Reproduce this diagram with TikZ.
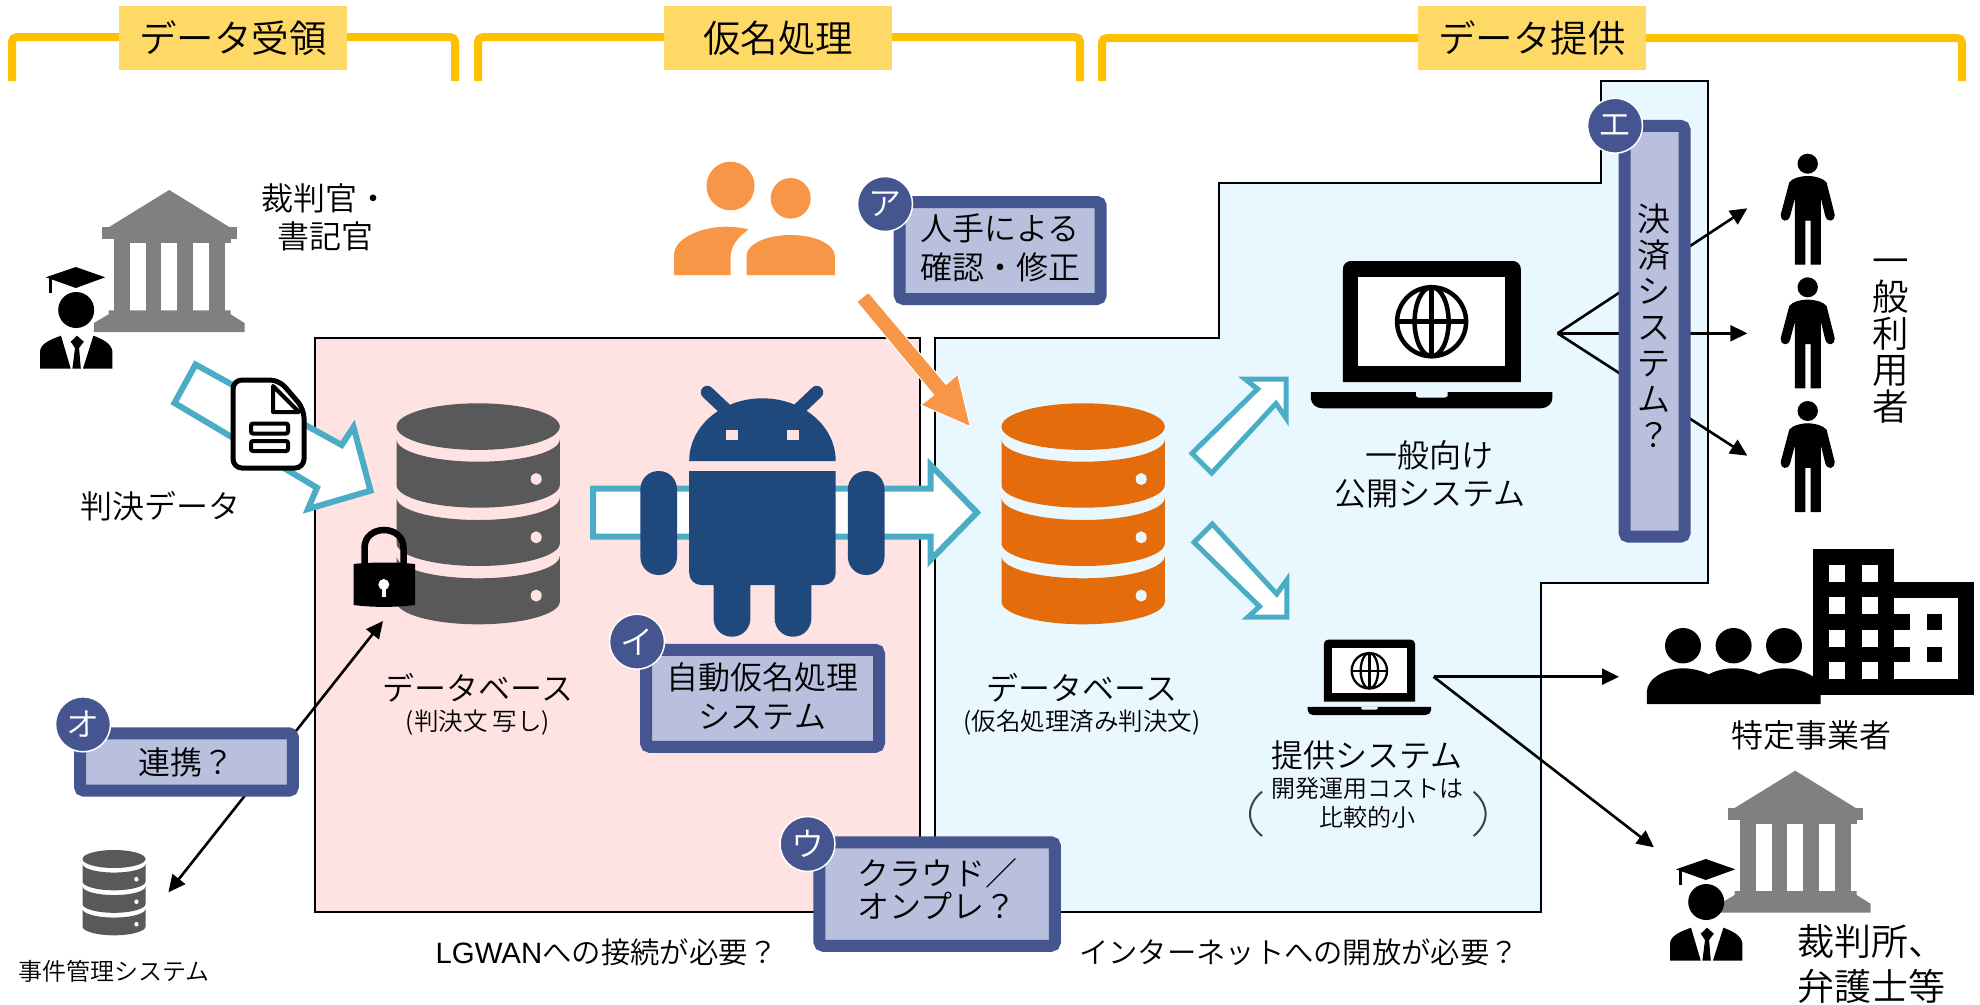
\documentclass[tikz,border=0pt]{standalone}
\usepackage{fontspec}
\setmainfont{Noto Sans CJK JP DemiLight}
\newfontfamily\latinfont{Liberation Sans}
\usetikzlibrary{arrows.meta,shapes.geometric}
\definecolor{brk}{HTML}{FFC000}
\definecolor{brkbox}{HTML}{FFD966}
\definecolor{pinkbg}{HTML}{FFE2E2}
\definecolor{bluebg}{HTML}{E9F8FF}
\definecolor{qfill}{HTML}{B8C0DE}
\definecolor{qedge}{HTML}{445590}
\definecolor{teal}{HTML}{4BACC6}
\definecolor{orangeA}{HTML}{F79646}
\definecolor{orangeB}{HTML}{E46C0A}
\definecolor{navyic}{HTML}{1F497D}
\definecolor{dbgrey}{HTML}{595959}
\newcommand{\fs}[1]{\fontsize{#1}{#1}\selectfont}
\newcommand{\dbicon}[5]{%
\begin{scope}[shift={(#1,#2)},scale=#3]
\fill[#4] (81.65,23.3) ellipse [x radius=81.65,y radius=23.3];
\foreach \o in {0,58.3,116.6}{
\begin{scope}[shift={(0,\o)}]
\fill[#4] (0,36) .. controls (0,48.4) and (36.6,58.4) .. (81.65,58.4) .. controls (126.7,58.4) and (163.3,48.4) .. (163.3,36) -- (163.3,81.7) .. controls (163.3,94.1) and (126.7,104.4) .. (81.65,104.4) .. controls (36.6,104.4) and (0,94.1) .. (0,81.7) -- cycle;
\fill[#5] (139.7,75.7) ellipse [x radius=5.5,y radius=6];
\end{scope}}
\end{scope}}
\newcommand{\laptopicon}[4]{%
\begin{scope}[shift={(#1,#2)},scale=#3]
\fill[black] (32.1,121) [rounded corners=#3*8pt] -- (32.1,0) -- (210,0) [sharp corners] -- (210,121) -- cycle;
\fill[white] (47.2,15.7) rectangle (194.4,105);
\fill[black] (0,131) -- (241.6,131) -- (241.6,137) .. controls (241.6,143) and (236,147.3) .. (230,147.3) -- (11.6,147.3) .. controls (5.6,147.3) and (0,143) .. (0,137) -- cycle;
\fill[#4] (105.2,131) -- (136.8,131) -- (136.8,135) -- (134,136.7) -- (108,136.7) -- (105.2,135) -- cycle;
\begin{scope}[line width=#3*4.5pt,draw=black]
\draw (120.8,60.7) circle [radius=34.5];
\draw (120.8,60.7) ellipse [x radius=17,y radius=34.5];
\draw (120.8,26.2) -- (120.8,95.2);
\draw (86.3,60.7) -- (155.3,60.7);
\end{scope}
\end{scope}}
\newcommand{\courticon}[2]{%
\begin{scope}[shift={(#1,#2)}]
\fill[black!50] (108.6,227.3) -- (169.2,190) -- (229.8,227.3) -- cycle;
\fill[black!50] (102.3,227.3) rectangle (236.5,239.3);
\fill[black!50] (114,239.3) rectangle (230.6,243.3);
\foreach \a/\b in {114/129.6,145.6/161.2,177.2/193.2,209.2/224.7}{\fill[black!50] (\a,243) rectangle (\b,311);}
\fill[black!50] (108.6,310.3) -- (230.6,310.3) -- (230.6,314.3) -- (244.5,323) -- (244.5,332) -- (93.9,332) -- (93.9,323) -- (108.6,314.3) -- cycle;
\end{scope}}
\newcommand{\gradicon}[2]{%
\begin{scope}[shift={(#1,#2)}]
\fill[black] (45.9,277.3) -- (75.8,267) -- (105.2,277.3) -- (75.8,288) -- cycle;
\fill[black] (49,278) rectangle (52,292.7);
\fill[black] (76.2,310) ellipse [x radius=18,y radius=18];
\fill[black] (40,368.5) -- (40,351) .. controls (41,343) and (52,339) .. (61,335.7) -- (70.7,368.5) -- cycle;
\fill[black] (112.4,368.5) -- (112.4,351) .. controls (111,343) and (102,339) .. (93.4,335.7) -- (83,368.5) -- cycle;
\fill[black] (77,335.7) -- (70.7,341.7) -- (75,348) -- (72.4,368.5) -- (80.8,368.5) -- (79.1,348) -- (83.8,341.7) -- cycle;
\end{scope}}
\newcommand{\manicon}[2]{%
\begin{scope}[shift={(#1,#2)}]
\fill[black] (0,0) ellipse [x radius=10.2,y radius=10];
\fill[black,draw=black,line width=1pt,line join=round] (0,12.8) .. controls (-8,13) and (-15,15) .. (-18,19) -- (-26.5,51) .. controls (-27,57) and (-20,59) .. (-18,52) -- (-12.3,30.3) -- (-12.3,100.5) -- (-2.8,100.5) -- (-2.8,56.3) -- (3.3,56.3) -- (3.3,100.5) -- (12.7,100.5) -- (12.7,30.3) -- (18,52) .. controls (20,59) and (27,57) .. (26.5,51) -- (18.4,19) .. controls (15,15) and (8,13) .. (0,12.8) -- cycle;
\end{scope}}
\tikzset{
 bracket/.style={draw=brk,line width=8pt,rounded corners=5pt},
 brkhead/.style={fill=brkbox,inner sep=0pt,minimum height=64pt,font=\fs{37.5}},
 region/.style={draw=black,line width=1.6pt},
 bigarrow/.style={draw=teal,fill=white,line width=6pt,miter limit=10},
 qbox/.style={draw=qedge,fill=qfill,line width=12pt,rounded corners=4pt,inner sep=0pt,align=center},
 qtext/.style={inner sep=0pt,align=center,font=\fontsize{32}{39}\selectfont},
 badge/.style={circle,fill=qedge,draw=white,line width=1.5pt,minimum size=55pt,inner sep=0pt,text=white,font=\fs{33}},
 txt/.style={inner sep=0pt,align=center,font=\fontsize{32}{38}\selectfont},
 small/.style={inner sep=0pt,align=center,font=\fontsize{24}{29}\selectfont},
 link/.style={black,line width=2.6pt,-{Triangle[length=17pt,width=16pt]}},
}
\begin{document}
\begin{tikzpicture}[x=1pt,y=-1pt]
\useasboundingbox (0,0) rectangle (1980,1004);
\fill[white] (0,0) rectangle (1980,1004);
% brackets
\draw[bracket] (12,81) -- (12,37) -- (455,37) -- (455,81);
\draw[bracket] (478,81) -- (478,37) -- (1080,37) -- (1080,81);
\draw[bracket] (1102,81) -- (1102,38) -- (1962,38) -- (1962,81);
\node[brkhead,minimum width=228pt] (h1) at (233,38) {データ受領};
\node[brkhead,minimum width=228pt] (h2) at (778,38) {仮名処理};
\node[brkhead,minimum width=228pt] (h3) at (1532,38) {データ提供};
% regions
\draw[region,fill=pinkbg] (315,338) rectangle (920,912);
\draw[region,fill=bluebg] (935,338) -- (1219,338) -- (1219,183) -- (1601,183) -- (1601,81) -- (1708,81) -- (1708,583) -- (1541,583) -- (1541,912) -- (935,912) -- cycle;
% teal arrows
\draw[bigarrow] (195.5,364.5) -- (174.5,403) -- (317,487.7) -- (308,509) -- (370.5,490.7) -- (353.5,427) -- (341.7,445) -- cycle;
\draw[bigarrow] (593,488.5) -- (930.5,488.5) -- (930.5,465) -- (977,512.5) -- (930.5,560) -- (930.5,536.5) -- (593,536.5) -- cycle;
\draw[bigarrow,line width=5pt] (1192,453.3) -- (1211.7,473) -- (1276,403.5) -- (1286,418) -- (1286,379) -- (1245,379) -- (1257.5,389) -- cycle;
\draw[bigarrow,line width=5pt] (1194,542.3) -- (1212.3,524) -- (1276.7,594) -- (1286.8,580) -- (1286.8,617) -- (1248,617) -- (1259.5,606.5) -- cycle;
% court + person
\courticon{0}{0}
\gradicon{0}{0}
\courticon{1626}{580.7}
\gradicon{1630}{592}
% document
\draw[black,fill=white,line width=5pt,rounded corners=9pt] (233,380) -- (279,380) -- (304,409) -- (304,468) -- (233,468) -- cycle;
\draw[black,line width=4pt,line join=round] (273,386) -- (273,412) -- (299,412) -- cycle;
\draw[black,line width=4pt,rounded corners=2pt] (251,423.5) rectangle (288,433.5);
\draw[black,line width=4pt,rounded corners=2pt] (251,441) rectangle (288,451);
% databases
\dbicon{396.5}{403.3}{1}{dbgrey}{pinkbg}
\dbicon{1001.5}{403.3}{1}{orangeB}{bluebg}
\dbicon{82.5}{850}{0.386}{dbgrey}{white}
% lock
\draw[black,line width=6.5pt] (364.5,565) -- (364.5,548) .. controls (364.5,524) and (403.5,524) .. (403.5,548) -- (403.5,565);
\fill[black] (353.5,564) .. controls (373,562) and (395,562) .. (415,564) -- (415,605) .. controls (395,607.5) and (373,607.5) .. (353.5,605) -- cycle;
\fill[white] (383.8,584.5) ellipse [x radius=5.5,y radius=5.5];
\fill[white] (381.8,586) rectangle (385.8,596.7);
% android
\fill[navyic] (689.2,461) .. controls (689.2,426) and (722,398.3) .. (762.4,398.3) .. controls (802.8,398.3) and (835.7,426) .. (835.7,461) -- cycle;
\draw[navyic,line width=13pt,line cap=round] (707.3,392.3) -- (726,410);
\draw[navyic,line width=13pt,line cap=round] (816.7,392.3) -- (798,410);
\fill[pinkbg] (725.8,430) rectangle (738,440);
\fill[pinkbg] (786.9,430) rectangle (799,440);
\fill[navyic] (689.2,471) -- (835.7,471) [rounded corners=12pt] -- (835.7,585) -- (689.2,585) [sharp corners] -- (689.2,471) -- cycle;
\fill[navyic,rounded corners=18pt] (640.4,471) rectangle (677,575);
\fill[navyic,rounded corners=18pt] (847.9,471) rectangle (884.5,575);
\fill[navyic,rounded corners=18pt] (713.6,560) rectangle (750.3,636.7);
\fill[navyic,rounded corners=18pt] (774.7,560) rectangle (811.3,636.7);
% orange people
\fill[orangeA] (730.5,186) ellipse [x radius=24,y radius=24.3];
\fill[orangeA] (790.7,198.3) ellipse [x radius=20,y radius=20.3];
\fill[orangeA] (674,275) -- (674,255) .. controls (674,238) and (702,226.7) .. (726,226.7) .. controls (733,226.7) and (744,228) .. (748.5,229.5) .. controls (738,237) and (730.5,246) .. (730.5,258) -- (730.5,275) -- cycle;
\fill[orangeA] (746.5,275) -- (746.5,255) .. controls (748,243) and (768,235) .. (790.7,235) .. controls (813,235) and (833,243) .. (834.8,255) -- (834.8,275) -- cycle;
% orange arrow
\fill[orangeA,draw=white,line width=1pt] (856.7,301.7) -- (868.5,292.3) -- (946,384.3) -- (957.7,374.3) -- (970.4,426.7) -- (921,405) -- (933.8,395) -- cycle;
% laptops
\laptopicon{1310.8}{261}{1}{bluebg}
\laptopicon{1307.5}{639.7}{0.512}{bluebg}
% people on the right
\manicon{1807.7}{163.7}
\manicon{1807.7}{287.3}
\manicon{1807.7}{411}
% company
\fill[black] (1813.4,549.3) rectangle (1893.6,695);
\fill[black] (1893.6,582) rectangle (1973.8,695);
\foreach \cx in {1829,1862}{\foreach \ry in {565,597.3,630,662.3}{\fill[white] (\cx,\ry) rectangle ++(16.3,16.7);}}
\fill[white] (1893.6,597.7) rectangle (1958.3,679);
\fill[black] (1893.6,614) rectangle (1910,630);
\fill[black] (1893.6,646.7) rectangle (1910,662.3);
\fill[black] (1926.7,614) rectangle (1942.2,630);
\fill[black] (1926.7,646.7) rectangle (1942.2,662.3);
\foreach \hx in {1683,1733.6,1784}{\fill[black] (\hx,645.7) ellipse [x radius=18,y radius=17.7];}
\fill[black] (1646.8,704) -- (1646.8,692) .. controls (1647,678) and (1666,668.3) .. (1683,668.3) .. controls (1693,668.3) and (1702,671) .. (1708.6,674.3) .. controls (1715,671) and (1724,668.3) .. (1733.6,668.3) .. controls (1743,668.3) and (1752,671) .. (1759,674.3) .. controls (1765,671) and (1775,668.3) .. (1784,668.3) .. controls (1801,668.3) and (1812,675) .. (1820.5,682) -- (1820.5,704) -- cycle;
% connector end points
\coordinate (fan) at (1557.6,333.3);
\coordinate (u1) at (1747.3,208.3);
\coordinate (u2) at (1747.3,333.3);
\coordinate (u3) at (1747.3,455.7);
\coordinate (prov) at (1433.5,676.7);
\coordinate (bizp) at (1619,676.7);
\coordinate (courtp) at (1653.9,847.3);
\coordinate (locktip) at (383,621);
\coordinate (casedb) at (168.4,892.3);
\draw[link] (fan) -- (u1);
\draw[link] (fan) -- (u2);
\draw[link] (fan) -- (u3);
\draw[link] (prov) -- (bizp);
\draw[link] (prov) -- (courtp);
\draw[link,{Triangle[length=17pt,width=16pt]}-{Triangle[length=17pt,width=16pt]}] (casedb) -- (locktip);
% question boxes
\node[qbox,minimum width=201pt,minimum height=97pt] (qa) at (1000.2,250.5) {};
\node[qtext] (qat) at (1000.2,248) {人手による\\確認・修正};
\node[badge] (ba) at (885,204) {ア};
\node[qbox,minimum width=233pt,minimum height=97pt] (qi) at (762.5,698.3) {};
\node[qtext] (qit) at (762.5,695.8) {自動仮名処理\\システム};
\node[badge] (bi) at (637,641.7) {イ};
\node[qbox,minimum width=235.5pt,minimum height=103.5pt] (qu) at (937.2,894) {};
\node[qtext,font=\fontsize{32}{33.5}\selectfont] (qut) at (937.2,889) {クラウド／\\オンプレ？};
\node[badge] (bu) at (807.5,844) {ウ};
\node[qbox,minimum width=60pt,minimum height=410.7pt] (qe) at (1654.6,331.3) {};
\node[qtext,font=\fontsize{33}{36}\selectfont] (qet) at (1654.3,326) {決\\済\\シ\\ス\\テ\\ム\\？};
\node[badge] (be) at (1615,125.7) {エ};
\node[qbox,minimum width=212.8pt,minimum height=57.4pt] (qo) at (186.4,762) {};
\node[qtext] (qot) at (186.4,762) {連携？};
\node[badge] (bo) at (83,724.3) {オ};
% labels
\node[txt] (t1) at (325,217) {裁判官・\\書記官};
\node[txt] (t2) at (160,506) {判決データ};
\node[txt] (t3) at (478,688) {データベース};
\node[small,font=\fs{24.5}] (t4) at (478,723) {(判決文 写し)};
\node[txt] (t5) at (1082,688) {データベース};
\node[small,font=\fs{24.5}] (t6) at (1082,722.7) {(仮名処理済み判決文)};
\node[txt] (t7) at (1429.7,474) {一般向け\\公開システム};
\node[txt] (t8) at (1366.7,755) {提供システム};
\node[small] (t9) at (1367.4,803) {開発運用コストは\\比較的小};
\draw[black!75,line width=2pt] (1262,791.7) .. controls (1246,805) and (1246,823) .. (1262,836);
\draw[black!75,line width=2pt] (1473.6,791.7) .. controls (1489.6,805) and (1489.6,823) .. (1473.6,836);
\node[txt] (t10) at (1811,735) {特定事業者};
\node[inner sep=0pt,align=left,font=\fontsize{37}{45}\selectfont,anchor=west] (t11) at (1797,964) {裁判所、\\弁護士等};
\node[inner sep=0pt,align=center,font=\fontsize{36.5}{36.5}\selectfont] (t12) at (1891,341) {一\\般\\利\\用\\者};
\node[small] (t13) at (114,971) {事件管理システム};
\node[inner sep=0pt,font=\fs{29.4}] (t14) at (606.5,952) {{\latinfont LGWAN}への接続が必要？};
\node[inner sep=0pt,font=\fs{29.3}] (t15) at (1299,952) {インターネットへの開放が必要？};
\end{tikzpicture}
\end{document}
